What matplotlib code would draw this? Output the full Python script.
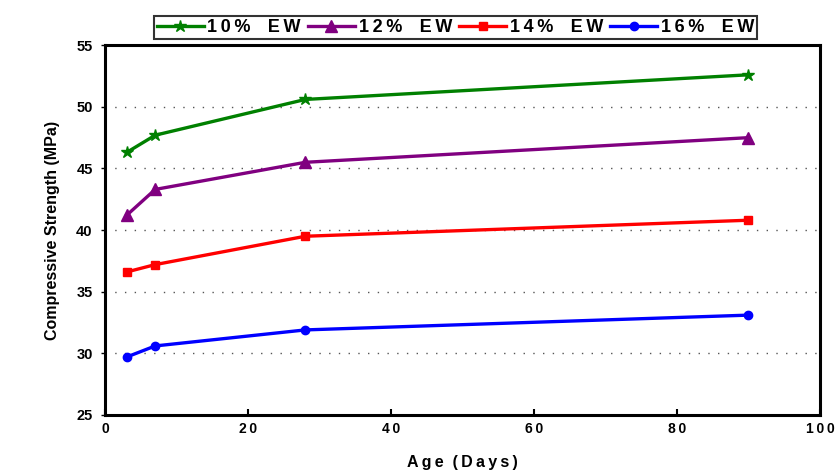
import matplotlib

matplotlib.use("Agg")
import matplotlib.pyplot as plt

# curing age (days) and compressive strength (MPa) per EW replacement level
ages = [3, 7, 28, 90]
ew_10 = [46.3, 47.7, 50.6, 52.6]
ew_12 = [41.2, 43.3, 45.5, 47.5]
ew_14 = [36.6, 37.2, 39.5, 40.8]
ew_16 = [29.7, 30.6, 31.9, 33.1]
labels = ["10% EW", "12% EW", "14% EW", "16% EW"]
x_ticks = [0, 20, 40, 60, 80, 100]
y_ticks = [25, 30, 35, 40, 45, 50, 55]

THIN = "\u2009"


def spaced(text):
    # loose letter spacing, done with thin spaces between characters
    return THIN.join(text)


plt.rcParams["font.family"] = ["Liberation Sans", "DejaVu Sans"]

fig = plt.figure(figsize=(8.35, 4.71), dpi=100)
ax = fig.add_axes([0.126, 0.119, 0.856, 0.785])

styles = [
    ("#008000", "*", 9),
    ("#800080", "^", 8),
    ("#ff0000", "s", 6),
    ("#0000ff", "o", 6),
]
for values, label, (color, marker, ms) in zip([ew_10, ew_12, ew_14, ew_16], labels, styles):
    ax.plot(ages, values, color=color, marker=marker, markersize=ms, linewidth=2.4,
            label=spaced(label).replace(" ", "  "))

ax.set_xlim(0, 100)
ax.set_ylim(25, 55)
ax.set_xticks(x_ticks)
ax.set_yticks(y_ticks)
ax.set_xticklabels([spaced(str(t)) for t in x_ticks], fontweight="bold", fontsize=10)
ax.set_yticklabels([str(t) for t in y_ticks], fontweight="bold", fontsize=10.5)
ax.tick_params(axis="x", direction="in", length=4, width=1.5, pad=5)
ax.tick_params(axis="y", direction="out", length=3, width=1, pad=6)

for y in y_ticks[1:-1]:
    ax.axhline(y, color="#555555", linestyle=(0, (1, 6)), linewidth=1.0, zorder=0)

for spine in ax.spines.values():
    spine.set_linewidth(2.2)

ax.set_xlabel(spaced("Age") + "  " + spaced("(Days)"), fontweight="bold", fontsize=11.5, labelpad=14)
ax.set_ylabel("Compressive Strength (MPa)", fontweight="bold", fontsize=11.5, labelpad=12)

leg = ax.legend(loc="lower center", bbox_to_anchor=(0.49, 1.0), ncol=4, frameon=True,
                fancybox=False, prop={"weight": "bold", "size": 13}, handlelength=2.6,
                columnspacing=0.4, handletextpad=0.2, borderpad=0.15, borderaxespad=0.35)
leg.get_frame().set_edgecolor("black")
leg.get_frame().set_linewidth(1.5)

fig.savefig("out.png", dpi=100)
